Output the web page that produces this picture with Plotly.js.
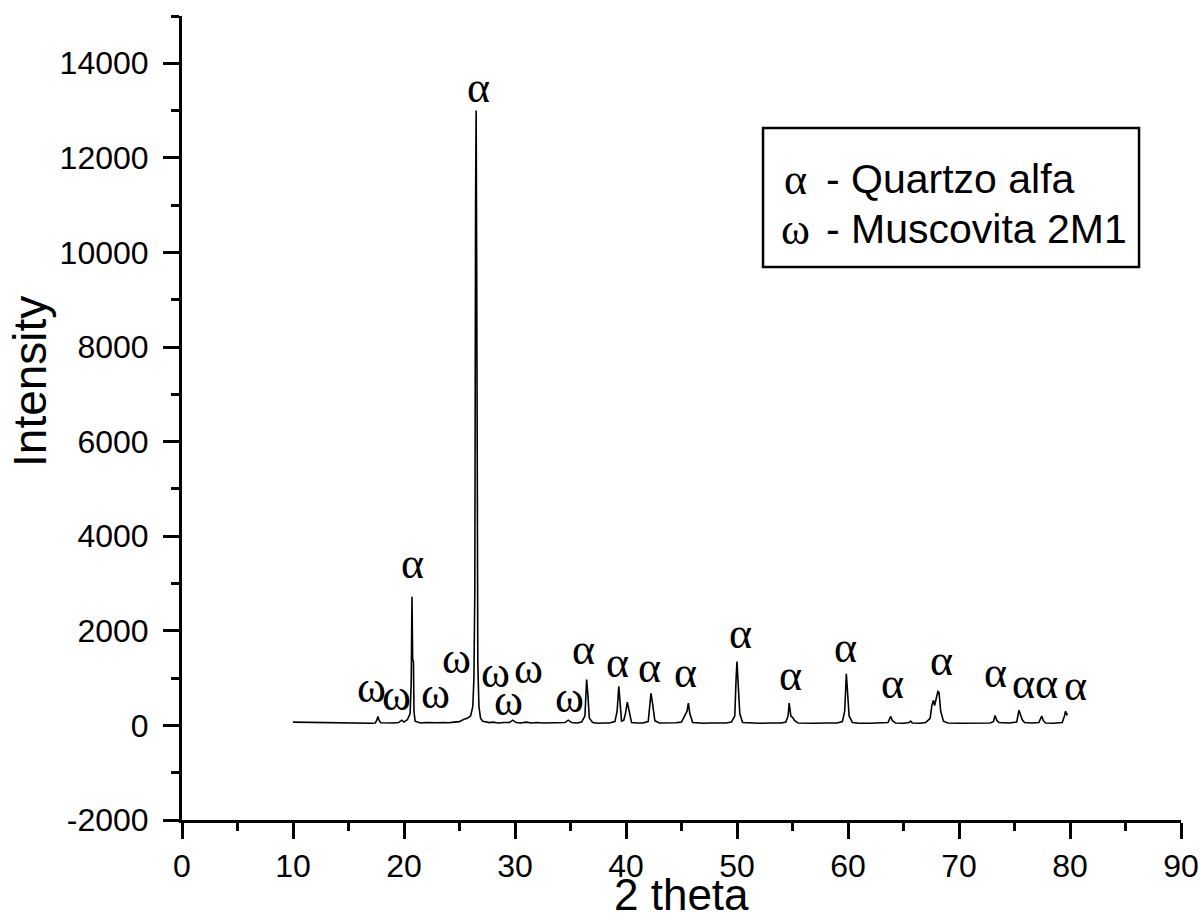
<!DOCTYPE html>
<html>
<head>
<meta charset="utf-8">
<script src="https://cdn.plot.ly/plotly-3.0.1.min.js"></script>
<style>html,body{margin:0;padding:0;background:#fff;}#chart{width:1200px;height:921px;}</style>
</head>
<body>
<div id="chart"></div>
<script>
// 2 theta (degrees) and intensity
const twoTheta = [
 10.0, 11.0, 12.0, 13.0, 14.0, 15.0, 16.0, 17.0, 17.4, 17.55, 17.65, 17.75, 17.9, 18.5, 19.0, 19.5, 19.8, 20.0,
 20.3, 20.55, 20.65, 20.72, 20.78, 20.85, 20.9, 21.0, 21.5, 22.0, 22.5, 23.0, 23.5, 24.0, 24.5, 25.0, 25.4, 25.7,
 26.0, 26.2, 26.3, 26.38, 26.45, 26.5, 26.55, 26.6, 26.65, 26.75, 26.9, 27.1, 27.4, 27.7, 28.0, 28.5, 29.0, 29.5,
 29.8, 30.1, 30.5, 31.0, 31.5, 32.0, 32.5, 33.0, 33.5, 34.0, 34.5, 34.8, 35.1, 35.6, 36.0, 36.3, 36.45, 36.55,
 36.7, 37.0, 37.5, 38.0, 38.5, 39.0, 39.2, 39.35, 39.45, 39.6, 39.8, 39.95, 40.12, 40.3, 40.5, 41.0, 41.5, 42.0,
 42.25, 42.4, 42.6, 43.0, 43.5, 44.0, 44.5, 45.0, 45.3, 45.5, 45.62, 45.75, 46.0, 46.5, 47.0, 47.5, 48.0, 48.5,
 49.0, 49.5, 49.8, 49.92, 50.0, 50.1, 50.25, 50.5, 51.0, 52.0, 53.0, 54.0, 54.4, 54.6, 54.7, 54.85, 55.0, 55.2,
 55.5, 56.0, 57.0, 58.0, 59.0, 59.5, 59.7, 59.85, 59.95, 60.1, 60.4, 61.0, 62.0, 63.0, 63.6, 63.85, 64.0, 64.3,
 65.0, 65.5, 65.65, 65.8, 66.5, 67.0, 67.4, 67.55, 67.7, 67.8, 67.95, 68.1, 68.2, 68.35, 68.6, 69.0, 70.0, 71.0,
 72.0, 72.8, 73.1, 73.25, 73.4, 73.6, 74.5, 75.2, 75.4, 75.55, 75.7, 75.9, 76.5, 77.2, 77.45, 77.6, 77.8, 78.5,
 79.3, 79.5, 79.6, 79.7, 79.8
];
const intensity = [
 70, 65, 62, 60, 55, 50, 48, 45, 50, 110, 190, 110, 55, 45, 50, 60, 110, 70,
 120, 250, 900, 2720, 1400, 1350, 300, 90, 50, 60, 50, 55, 60, 55, 70, 80, 130, 150,
 200, 400, 1000, 2875, 11100, 13000, 9600, 5600, 1300, 400, 150, 90, 70, 60, 70, 50, 60, 60,
 110, 60, 50, 70, 50, 60, 50, 55, 45, 50, 60, 110, 60, 50, 70, 200, 970, 700,
 150, 60, 45, 50, 50, 80, 300, 825, 550, 90, 110, 250, 490, 250, 60, 50, 50, 80,
 680, 450, 100, 50, 50, 45, 55, 70, 200, 300, 470, 250, 60, 50, 45, 50, 45, 50,
 50, 70, 200, 1000, 1350, 900, 250, 60, 50, 45, 50, 50, 70, 200, 470, 200, 170, 100,
 50, 45, 45, 50, 50, 80, 300, 1090, 800, 200, 60, 45, 45, 50, 60, 190, 100, 50,
 45, 60, 90, 50, 45, 60, 150, 420, 530, 420, 600, 720, 700, 300, 90, 50, 45, 50,
 45, 50, 80, 210, 110, 60, 50, 70, 320, 200, 120, 60, 50, 60, 200, 100, 50, 45,
 60, 200, 300, 230, 250
];

// axis ticks
const xTickVals = [0, 10, 20, 30, 40, 50, 60, 70, 80, 90];
const xTickText = ['0', '10', '20', '30', '40', '50', '60', '70', '80', '90'];
const yTickVals = [-2000, 0, 2000, 4000, 6000, 8000, 10000, 12000, 14000];
const yTickText = ['-2000', '0', '2000', '4000', '6000', '8000', '10000', '12000', '14000'];

// phase markers: symbol, 2 theta position, intensity position
const markerSymbols = ['α','α','ω','ω','ω','ω','ω','ω','ω','ω','α','α','α','α','α','α','α','α','α','α','α','α','α'];
const markerTheta   = [26.67,20.8,17.1,19.35,22.8,24.7,28.2,31.2,29.4,34.95,36.2,39.2,42.1,45.4,50.3,54.8,59.75,64.05,68.4,73.25,75.8,77.85,80.45];
const markerHeight  = [13490,3420,810,630,680,1420,1120,1200,530,590,1610,1330,1230,1120,1950,1060,1650,890,1370,1120,890,890,850];

const legendSymbols = ['α','ω'];
const legendLabels  = ['- Quartzo alfa','- Muscovita 2M1'];

const SANS = 'Arial, "Liberation Sans", sans-serif';
const SERIF = '"Times New Roman", "Liberation Serif", serif';

const annotations = markerSymbols.map((s, i) => ({
  x: markerTheta[i], y: markerHeight[i], xref: 'x', yref: 'y',
  text: s, showarrow: false, xanchor: 'center', yanchor: 'middle',
  font: {family: SERIF, size: 44, color: '#000'}
}));

const legRowY = [0.797, 0.735];
legendSymbols.forEach((s, i) => {
  annotations.push({x: 0.6146, y: legRowY[i], xref: 'paper', yref: 'paper', text: s, showarrow: false,
    xanchor: 'center', yanchor: 'middle', font: {family: SERIF, size: 44, color: '#000'}});
  annotations.push({x: 0.6426, y: legRowY[i], xref: 'paper', yref: 'paper', text: legendLabels[i], showarrow: false,
    xanchor: 'left', yanchor: 'middle', font: {family: SANS, size: 41, color: '#000'}});
});

annotations.push({x: -0.152, y: 0.545, xref: 'paper', yref: 'paper', text: 'Intensity', textangle: -90,
  showarrow: false, xanchor: 'center', yanchor: 'middle', font: {family: SANS, size: 46, color: '#000'}});
annotations.push({x: 0.5, y: -0.1256, xref: 'paper', yref: 'paper', text: '2 theta',
  showarrow: false, xanchor: 'center', yanchor: 'bottom', font: {family: SANS, size: 44, color: '#000'}});

const trace = {
  x: twoTheta, y: intensity, type: 'scatter', mode: 'lines',
  line: {color: '#000', width: 1.6}, showlegend: false, hoverinfo: 'x+y'
};

const axisCommon = {
  showline: true, linecolor: '#000', linewidth: 3, mirror: false,
  ticks: 'outside', ticklen: 16, tickwidth: 3, tickcolor: '#000',
  showgrid: false, zeroline: false,
  tickfont: {family: SANS, size: 32, color: '#000'}
};

const layout = {
  width: 1200, height: 921,
  margin: {l: 182, r: 19, t: 16, b: 101, pad: 0},
  paper_bgcolor: '#fff', plot_bgcolor: '#fff',
  showlegend: false,
  xaxis: Object.assign({}, axisCommon, {
    range: [0, 90], tickmode: 'array', tickvals: xTickVals, ticktext: xTickText,
    ticklabelstandoff: 0,
    minor: {dtick: 5, tick0: 0, ticks: 'outside', ticklen: 8, tickwidth: 3, tickcolor: '#000', showgrid: false}
  }),
  yaxis: Object.assign({}, axisCommon, {
    range: [-2000, 15000], tickmode: 'array', tickvals: yTickVals, ticktext: yTickText,
    ticklabelstandoff: 8,
    minor: {dtick: 1000, tick0: 0, ticks: 'outside', ticklen: 8, tickwidth: 3, tickcolor: '#000', showgrid: false}
  }),
  shapes: [{type: 'rect', xref: 'paper', yref: 'paper', x0: 0.5816, x1: 0.958, y0: 0.6878, y1: 0.8607,
    line: {color: '#000', width: 2.5}, fillcolor: 'rgba(0,0,0,0)'}],
  annotations: annotations
};

Plotly.newPlot('chart', [trace], layout, {staticPlot: true, displayModeBar: false});
</script>
</body>
</html>
